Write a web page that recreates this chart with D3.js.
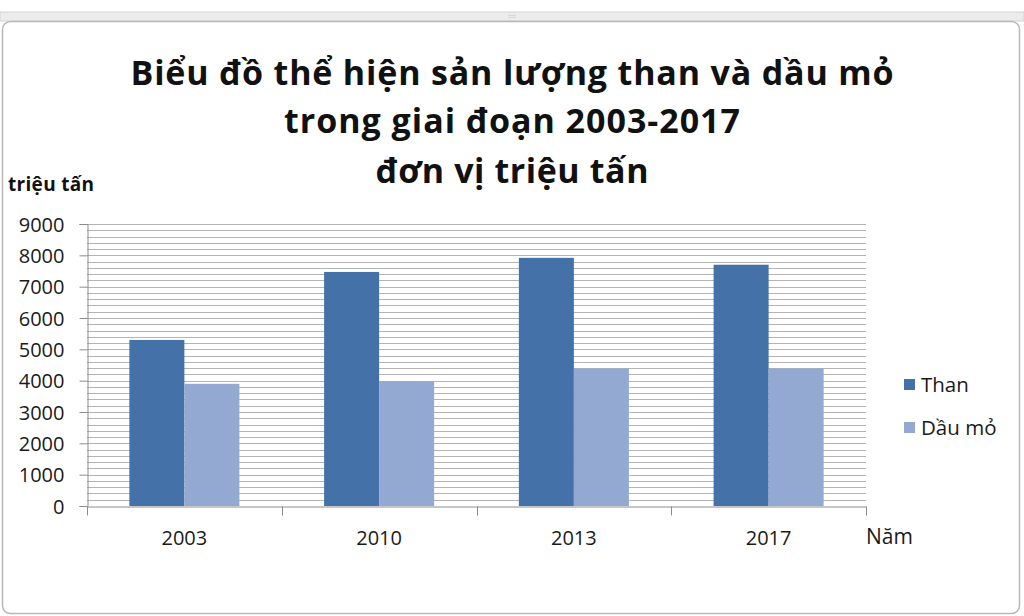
<!DOCTYPE html>
<html><head><meta charset="utf-8">
<script src="https://cdn.jsdelivr.net/npm/d3@7"></script>
<style>body{margin:0;background:#fff;}svg{display:block;}</style>
</head><body>
<script>
const categories = ["2003", "2010", "2013", "2017"];
const seriesNames = ["Than", "Dầu mỏ"];
const than = [5300, 7470, 7920, 7700];
const dauMo = [3900, 3980, 4390, 4390];
const yTicks = [0, 1000, 2000, 3000, 4000, 5000, 6000, 7000, 8000, 9000];
const titleLines = ["Biểu đồ thể hiện sản lượng than và dầu mỏ", "trong giai đoạn 2003-2017", "đơn vị triệu tấn"];
const colors = ["#4472a8", "#93a9d1"];

const W = 1024, H = 616;
const svg = d3.select("body").append("svg").attr("width", W).attr("height", H);
const font = "'Open Sans', 'Noto Sans', sans-serif";

// window frame
svg.append("rect").attr("x", 0).attr("y", 12).attr("width", W).attr("height", 9).attr("fill", "#ececec").attr("stroke", "#d4d4d4");
svg.append("text").attr("x", 512).attr("y", 18).attr("text-anchor", "middle").attr("font-size", 7).attr("fill", "#aaa").text("::::");
svg.append("rect").attr("x", 2.5).attr("y", 21.5).attr("width", 1017).attr("height", 592).attr("rx", 8)
  .attr("fill", "#fff").attr("stroke", "#b8b8b8").attr("stroke-width", 1.5);

const m = {left: 87, right: 866, top: 224, bottom: 506};
const x = d3.scaleBand().domain(categories).range([m.left, m.right]).paddingInner(0).paddingOuter(0);
const y = d3.scaleLinear().domain([0, 9000]).range([m.bottom, m.top]);
const x1 = d3.scaleBand().domain(seriesNames).range([0, x.bandwidth()]).paddingInner(0).paddingOuter(0.77);

// gridlines every 200
const grid = d3.range(200, 9001, 200);
svg.append("g").selectAll("line").data(grid).join("line")
  .attr("x1", m.left).attr("x2", m.right)
  .attr("y1", d => Math.round(y(d)) + 0.5).attr("y2", d => Math.round(y(d)) + 0.5)
  .attr("stroke", "#b4b4b4").attr("stroke-width", 1.2);

// bars
const data = categories.map((c, i) => ({c, vals: [than[i], dauMo[i]]}));
const g = svg.append("g");
data.forEach(d => {
  d.vals.forEach((v, j) => {
    g.append("rect").attr("x", x(d.c) + x1(seriesNames[j])).attr("y", y(v))
      .attr("width", x1.bandwidth()).attr("height", y(0) - y(v)).attr("fill", colors[j]);
  });
});

// y axis
const yAxis = d3.axisLeft(y).tickValues(yTicks).tickSize(8).tickPadding(15).tickFormat(d3.format("d"));
const ya = svg.append("g").attr("transform", `translate(${m.left + 0.5},0)`).call(yAxis);
ya.select(".domain").attr("stroke", "#8c8c8c");
ya.selectAll(".tick line").attr("stroke", "#8c8c8c");
ya.selectAll(".tick text").attr("font-family", font).attr("font-size", 20).attr("fill", "#1a1a1a").attr("dy", "0.35em");

// x axis
const xAxis = d3.axisBottom(x).tickSize(0).tickPadding(24);
const xa = svg.append("g").attr("transform", `translate(0,${m.bottom + 0.5})`).call(xAxis);
xa.select(".domain").attr("stroke", "#8c8c8c");
xa.selectAll(".tick text").attr("font-family", font).attr("font-size", 20).attr("fill", "#1a1a1a");
// category boundary ticks
const bounds = categories.map(c => x(c)).concat([m.right]);
xa.append("g").selectAll("line").data(bounds).join("line")
  .attr("x1", d => Math.round(d) + 0.5).attr("x2", d => Math.round(d) + 0.5).attr("y1", 0).attr("y2", 9)
  .attr("stroke", "#8c8c8c");

// titles
const tY = [85, 133, 183];
const tW = [763, 456, 273];
svg.append("g").selectAll("text").data(titleLines).join("text")
  .attr("x", 512).attr("y", (d, i) => tY[i]).attr("text-anchor", "middle")
  .attr("font-family", font).attr("font-weight", "bold").attr("font-size", 34).attr("fill", "#111")
  .attr("textLength", (d, i) => tW[i]).attr("lengthAdjust", "spacing")
  .text(d => d);

svg.append("text").attr("x", 8).attr("y", 191).attr("font-family", font).attr("font-weight", "bold")
  .attr("font-size", 19).attr("fill", "#111").attr("textLength", 86).text("triệu tấn");

svg.append("text").attr("x", 866).attr("y", 544).attr("font-family", font)
  .attr("font-size", 21).attr("fill", "#1a1a1a").text("Năm");

// legend
const leg = svg.append("g");
seriesNames.forEach((s, i) => {
  const ly = 385 + i * 43;
  leg.append("rect").attr("x", 904).attr("y", ly - 6).attr("width", 11).attr("height", 11).attr("fill", colors[i]);
  leg.append("text").attr("x", 921).attr("y", ly).attr("dy", "0.35em").attr("font-family", font)
    .attr("font-size", 20.5).attr("fill", "#1a1a1a").text(s);
});
</script>
</body></html>
